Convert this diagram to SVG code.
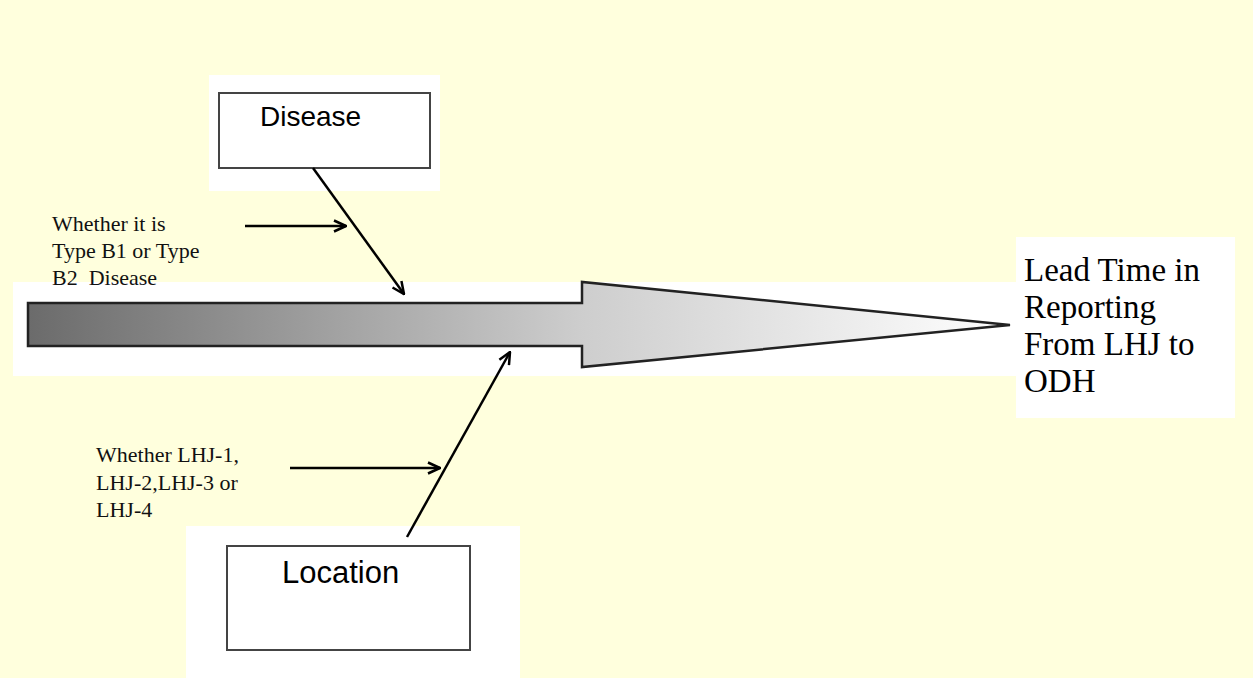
<svg xmlns="http://www.w3.org/2000/svg" width="1253" height="678" viewBox="0 0 1253 678">
  <defs>
    <linearGradient id="shaftFill" gradientUnits="userSpaceOnUse" x1="28" y1="0" x2="1010" y2="0">
      <stop offset="0" stop-color="#6b6b6b"/>
      <stop offset="0.56" stop-color="#cdcdcd"/>
      <stop offset="1" stop-color="#ffffff"/>
    </linearGradient>
    <marker id="openHead" viewBox="0 0 14 14" refX="13" refY="7" markerWidth="14" markerHeight="14" markerUnits="userSpaceOnUse" orient="auto">
      <path d="M1,1.5 L13,7 L1,12.5" fill="none" stroke="#000" stroke-width="2.5" stroke-linejoin="miter"/>
    </marker>
    <style>
      .panel { fill: #ffffff; }
      .box { fill: #ffffff; stroke: #444; stroke-width: 2; }
      .label { font-family: "Liberation Sans", Arial, sans-serif; fill: #000; }
      .note { font-family: "Liberation Serif", "Times New Roman", serif; font-size: 22px; fill: #111; }
      .outcome { font-family: "Liberation Serif", "Times New Roman", serif; font-size: 33px; fill: #000; }
      .conn { stroke: #000; stroke-width: 2.5; fill: none; marker-end: url(#openHead); }
    </style>
  </defs>

  <!-- page background -->
  <rect x="0" y="0" width="1253" height="678" fill="#ffffdd"/>

  <!-- white backing panels -->
  <rect class="panel" x="209" y="75" width="231" height="116"/>
  <rect class="panel" x="13" y="282" width="1005" height="94"/>
  <rect class="panel" x="1016" y="237" width="219" height="181"/>
  <rect class="panel" x="186" y="526" width="334" height="152"/>

  <!-- main process arrow -->
  <g id="process-arrow">
    <polygon points="28,303 582,303 582,282 1010,325 582,367 582,346 28,346" fill="url(#shaftFill)" stroke="#222" stroke-width="2.5" stroke-linejoin="miter"/>
  </g>

  <g id="disease">
    <rect class="box" x="219" y="93" width="211" height="75"/>
    <text class="label" x="260" y="126" font-size="28">Disease</text>
  </g>

  <g id="location">
    <rect class="box" x="227" y="546" width="243" height="104"/>
    <text class="label" x="282" y="583" font-size="31">Location</text>
  </g>

  <g id="disease-note">
    <text class="note">
      <tspan x="52" y="231">Whether it is</tspan>
      <tspan x="52" y="258">Type B1 or Type</tspan>
      <tspan x="52" y="285">B2&#160; Disease</tspan>
    </text>
  </g>

  <g id="location-note">
    <text class="note">
      <tspan x="96" y="462">Whether LHJ-1,</tspan>
      <tspan x="96" y="490">LHJ-2,LHJ-3 or</tspan>
      <tspan x="96" y="517">LHJ-4</tspan>
    </text>
  </g>

  <g id="outcome">
    <text class="outcome">
      <tspan x="1024" y="281">Lead Time in</tspan>
      <tspan x="1024" y="318">Reporting</tspan>
      <tspan x="1024" y="355">From LHJ to</tspan>
      <tspan x="1024" y="392">ODH</tspan>
    </text>
  </g>

  <g id="connectors">
    <line class="conn" x1="313" y1="168" x2="404" y2="294"/>
    <line class="conn" x1="407" y1="537" x2="510" y2="352"/>
    <line class="conn" x1="245" y1="226" x2="346" y2="226"/>
    <line class="conn" x1="290" y1="468" x2="440" y2="468"/>
  </g>
</svg>
